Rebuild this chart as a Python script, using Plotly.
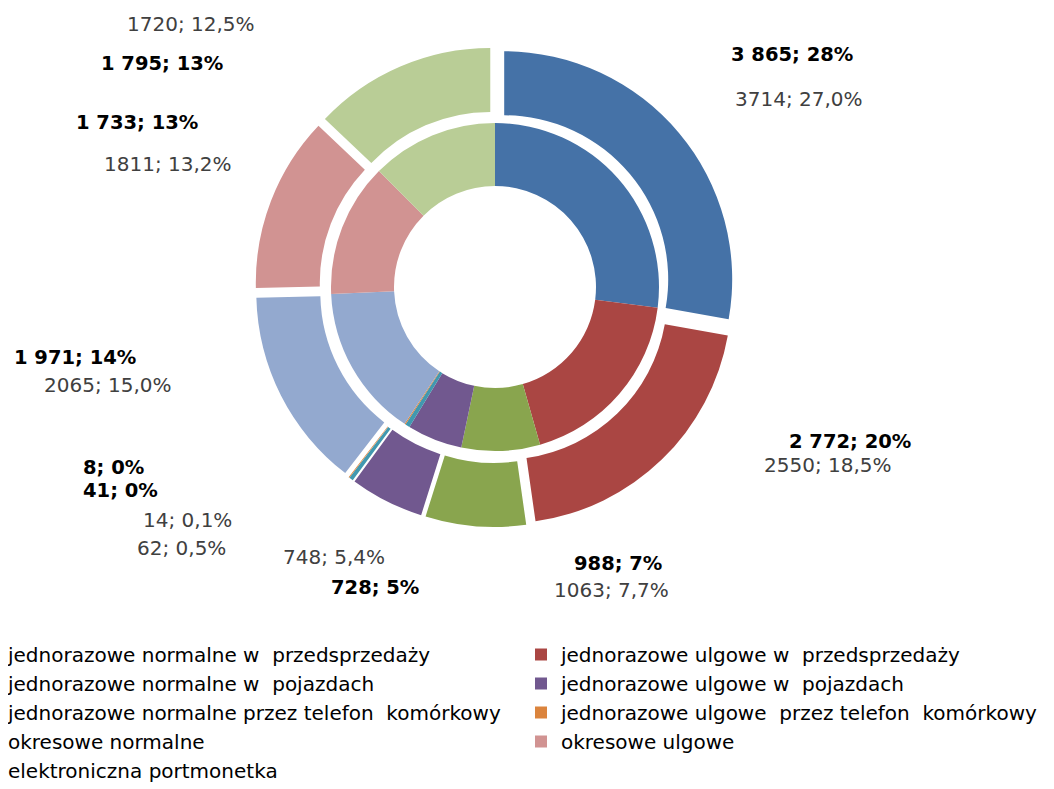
import plotly.graph_objects as go

# categories (legend order)
labels = [
    "jednorazowe normalne w  przedsprzedaży",
    "jednorazowe ulgowe w  przedsprzedaży",
    "jednorazowe normalne w  pojazdach",
    "jednorazowe ulgowe w  pojazdach",
    "jednorazowe normalne przez telefon  komórkowy",
    "jednorazowe ulgowe  przez telefon  komórkowy",
    "okresowe normalne",
    "okresowe ulgowe",
    "elektroniczna portmonetka",
]
colors = ["#4572A7", "#AA4643", "#89A54E", "#71588F", "#4198AF",
          "#DB843D", "#93A9CF", "#D19392", "#B9CD96"]

# outer ring (exploded, bold labels)
outer_values = [3865, 2772, 988, 728, 41, 8, 1971, 1733, 1795]
outer_pct = ["28%", "20%", "7%", "5%", "0%", "0%", "14%", "13%", "13%"]
# inner ring (grey labels)
inner_values = [3714, 2550, 1063, 748, 62, 14, 2065, 1811, 1720]
inner_pct = ["27,0%", "18,5%", "7,7%", "5,4%", "0,5%", "0,1%", "15,0%", "13,2%", "12,5%"]

# label placement, page pixels (x, y from top)
outer_pos = [(792, 55), (850, 441), (618, 563), (375, 587), (120, 490),
             (113, 467), (75, 357), (137, 123), (162, 63)]
inner_pos = [(799, 99), (828, 465), (611, 590), (334, 557), (181, 548),
             (187, 520), (108, 385), (168, 164), (191, 24)]

# page sits 8px inside the window (body margin); figure is wider than the
# window so that the two legend columns get their full spacing
OFF = 8
W, H = 1106, 781
B = 200
PH = H - B
FONT = "DejaVu Sans"


def px(x):
    return (x - OFF) / W


def py(y):
    return (PH - (y - OFF)) / PH


def fmt_thousands(v):
    return f"{v:,}".replace(",", " ")


def box(cx, cy, half):
    return dict(x=[px(cx - half), px(cx + half)],
                y=[py(cy + half), py(cy - half)])


cx, cy = 495, 287
inner_r, inner_hole = 164, 101
outer_r, outer_in, explode = 228, 164, 12

fig = go.Figure()
fig.add_trace(go.Pie(
    labels=labels, values=inner_values, sort=False, direction="clockwise",
    hole=inner_hole / inner_r, domain=box(cx, cy, inner_r), textinfo="none",
    marker=dict(colors=colors, line=dict(width=0)), showlegend=True,
))
fig.add_trace(go.Pie(
    labels=labels, values=outer_values, sort=False, direction="clockwise",
    hole=outer_in / outer_r, pull=explode / outer_r,
    domain=box(cx, cy, outer_r + explode), textinfo="none",
    marker=dict(colors=colors, line=dict(width=0)), showlegend=False,
))

annotations = []
for v, p, (x, y) in zip(outer_values, outer_pct, outer_pos):
    annotations.append(dict(
        text=f"<b>{fmt_thousands(v)}; {p}</b>", x=px(x), y=py(y),
        xref="paper", yref="paper", xanchor="center", yanchor="middle",
        showarrow=False, font=dict(family=FONT, size=19.5, color="#000000"),
    ))
for v, p, (x, y) in zip(inner_values, inner_pct, inner_pos):
    annotations.append(dict(
        text=f"{v}; {p}", x=px(x), y=py(y),
        xref="paper", yref="paper", xanchor="center", yanchor="middle",
        showarrow=False, font=dict(family=FONT, size=20, color="#404040"),
    ))

fig.update_layout(
    width=W, height=H,
    margin=dict(l=0, r=0, t=0, b=B, autoexpand=False),
    paper_bgcolor="white", plot_bgcolor="white",
    annotations=annotations,
    legend=dict(
        orientation="h", x=px(8 - 40), xanchor="left", y=py(635), yanchor="top",
        entrywidth=0.5, entrywidthmode="fraction", traceorder="normal",
        font=dict(family=FONT, size=20, color="#000000"),
    ),
)

fig.write_html("out.html")
